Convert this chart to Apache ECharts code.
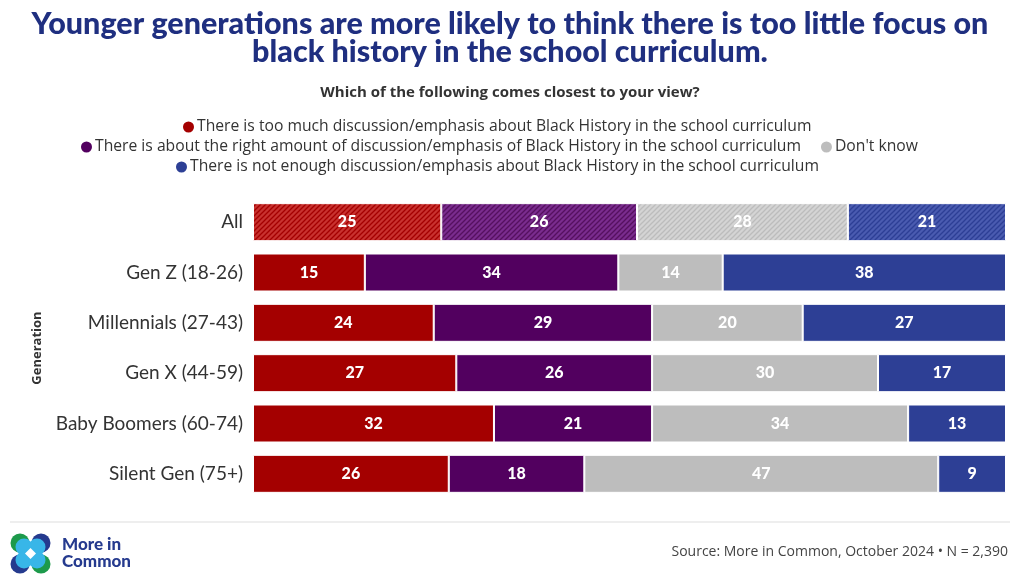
<!DOCTYPE html>
<html><head><meta charset="utf-8">
<script src="https://cdn.jsdelivr.net/npm/echarts@6/dist/echarts.min.js"></script>
<style>html,body{margin:0;padding:0;background:#fff}#c{width:1020px;height:587px}</style>
</head><body><div id="c"></div>
<script>
const categories = ['All', 'Gen Z (18-26)', 'Millennials (27-43)', 'Gen X (44-59)', 'Baby Boomers (60-74)', 'Silent Gen (75+)'];
const seriesNames = [
  'There is too much discussion/emphasis about Black History in the school curriculum',
  'There is about the right amount of discussion/emphasis of Black History in the school curriculum',
  "Don't know",
  'There is not enough discussion/emphasis about Black History in the school curriculum'
];
const tooMuch = [25, 15, 24, 27, 32, 26];
const aboutRight = [26, 34, 29, 26, 21, 18];
const dontKnow = [28, 14, 20, 30, 34, 47];
const notEnough = [21, 38, 27, 17, 13, 9];

const FONT = 'Lato, "Open Sans", sans-serif';
const FONT2 = '"Open Sans", Lato, sans-serif';
const colors = ['#a40000', '#52005f', '#bdbdbd', '#2d3f95'];
const hatchBase = ['#c8322f', '#7a2c8e', '#d4d4d4', '#4a5bb0'];
const hatchLine = ['#a40000', '#55105f', '#bcbcbc', '#2d3f95'];

function hatch(base, line) {
  const c = document.createElement('canvas');
  c.width = 5; c.height = 5;
  const ctx = c.getContext('2d');
  ctx.fillStyle = base; ctx.fillRect(0, 0, 5, 5);
  ctx.strokeStyle = line; ctx.lineWidth = 1.3;
  ctx.beginPath();
  ctx.moveTo(-1, 6); ctx.lineTo(6, -1);
  ctx.moveTo(-6, 6); ctx.lineTo(1, -1);
  ctx.moveTo(4, 6); ctx.lineTo(11, -1);
  ctx.stroke();
  return c;
}

const raw = [tooMuch, aboutRight, dontKnow, notEnough];
const totals = categories.map((_, i) => raw.reduce((s, a) => s + a[i], 0));

const series = raw.map((arr, si) => ({
  name: seriesNames[si],
  type: 'bar',
  stack: 'total',
  barWidth: 38,
  itemStyle: { color: colors[si], borderColor: '#fff', borderWidth: 1 },
  label: {
    show: true, position: 'inside', color: '#fff', fontFamily: FONT,
    fontWeight: 900, fontSize: 16,
    formatter: p => arr[p.dataIndex]
  },
  data: arr.map((v, i) => {
    const d = { value: v / totals[i] * 100 };
    if (i === 0) d.itemStyle = { color: { image: hatch(hatchBase[si], hatchLine[si]), repeat: 'repeat' }, borderColor: '#fff', borderWidth: 1 };
    return d;
  })
}));

const legendCommon = {
  icon: 'circle', itemWidth: 13, itemHeight: 13, itemGap: 18,
  padding: 0,
  textStyle: { fontFamily: FONT2, fontSize: 15.7, color: '#333', padding: [0, 0, 0, -3] },
  selectedMode: false
};

const chart = echarts.init(document.getElementById('c'));
chart.setOption({
  animation: false,
  color: colors,
  title: [{
    text: 'Younger generations are more likely to think there is too little focus on',
    left: 'center', top: 4,
    textStyle: { fontFamily: FONT, fontWeight: 900, fontSize: 30.5, color: '#1f2f80' }
  }, {
    text: 'black history in the school curriculum.',
    left: 'center', top: 32,
    textStyle: { fontFamily: FONT, fontWeight: 900, fontSize: 30.5, color: '#1f2f80' }
  }, {
    text: 'Which of the following comes closest to your view?',
    left: 'center', top: 80,
    textStyle: { fontFamily: FONT2, fontWeight: 'bold', fontSize: 15, color: '#333' }
  }],
  legend: [
    Object.assign({ left: 181, top: 119, data: [seriesNames[0]] }, legendCommon),
    Object.assign({ left: 79, top: 139, data: [seriesNames[1], seriesNames[2]] }, legendCommon),
    Object.assign({ left: 174, top: 159, data: [seriesNames[3]] }, legendCommon)
  ],
  grid: { left: 253, right: 14, top: 197, bottom: 88 },
  xAxis: { type: 'value', min: 0, max: 100, show: false },
  yAxis: {
    type: 'category', data: categories, inverse: true,
    axisLine: { show: false }, axisTick: { show: false },
    axisLabel: { fontFamily: FONT, fontSize: 19, color: '#333', margin: 10 },
    name: 'Generation', nameLocation: 'middle', nameRotate: 90, nameGap: 209,
    nameTextStyle: { fontFamily: FONT2, fontWeight: 'bold', fontSize: 13, color: '#333' }
  },
  series: series,
  graphic: [
    { type: 'line', shape: { x1: 10, y1: 522, x2: 1010, y2: 522 }, style: { stroke: '#dddddd', lineWidth: 1 } },
    { type: 'circle', shape: { cx: 20, cy: 543, r: 9.5 }, style: { fill: '#1d9a4b' } },
    { type: 'circle', shape: { cx: 41, cy: 543, r: 9.5 }, style: { fill: '#253a8e' } },
    { type: 'circle', shape: { cx: 20, cy: 564, r: 9.5 }, style: { fill: '#253a8e' } },
    { type: 'circle', shape: { cx: 41, cy: 564, r: 9.5 }, style: { fill: '#1d9a4b' } },
    { type: 'circle', shape: { cx: 24, cy: 547, r: 8.5 }, style: { fill: '#38b6e8' } },
    { type: 'circle', shape: { cx: 37, cy: 547, r: 8.5 }, style: { fill: '#38b6e8' } },
    { type: 'circle', shape: { cx: 24, cy: 560, r: 8.5 }, style: { fill: '#38b6e8' } },
    { type: 'circle', shape: { cx: 37, cy: 560, r: 8.5 }, style: { fill: '#38b6e8' } },
    { type: 'polygon', shape: { points: [[30.5, 548], [36, 553.5], [30.5, 559], [25, 553.5]] }, style: { fill: '#fff' } },
    { type: 'text', left: 62, top: 536, style: { text: 'More in\nCommon', fontFamily: FONT, fontWeight: 900, fontSize: 17, lineHeight: 17, fill: '#253a8e' } },
    { type: 'text', right: 12, top: 545, style: { text: 'Source: More in Common, October 2024 • N = 2,390', fontFamily: FONT2, fontSize: 14, fill: '#444' } }
  ]
});
</script></body></html>
